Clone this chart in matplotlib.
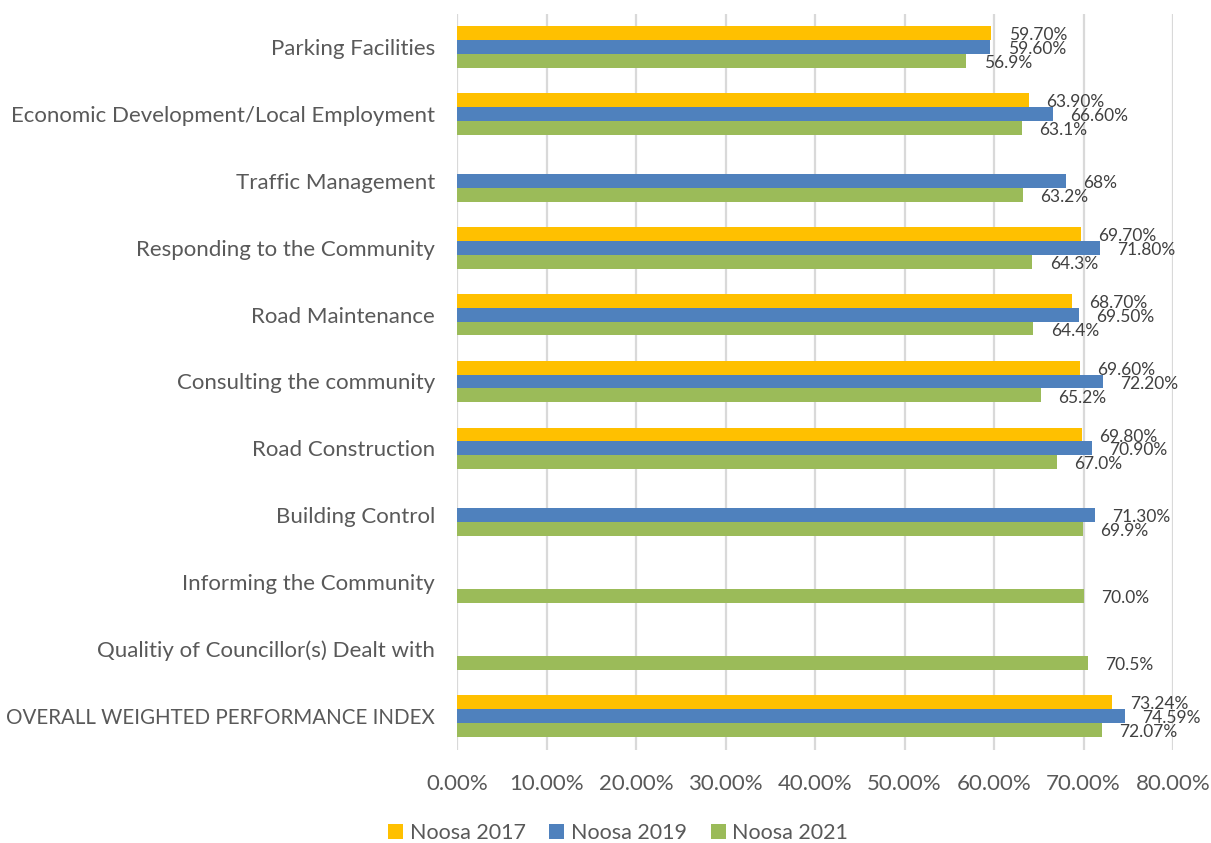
import numpy as np
import matplotlib
matplotlib.use("Agg")
import matplotlib.pyplot as plt
from matplotlib.patches import Patch

plt.rcParams['font.family'] = ['Lato', 'DejaVu Sans']

categories = [
    "Parking Facilities",
    "Economic Development/Local Employment",
    "Traffic Management",
    "Responding to the Community",
    "Road Maintenance",
    "Consulting the community",
    "Road Construction",
    "Building Control",
    "Informing the Community",
    "Qualitiy of Councillor(s) Dealt with",
    "OVERALL WEIGHTED PERFORMANCE INDEX",
]
noosa_2017 = [59.70, 63.90, np.nan, 69.70, 68.70, 69.60, 69.80, np.nan, np.nan, np.nan, 73.24]
noosa_2019 = [59.60, 66.60, 68.00, 71.80, 69.50, 72.20, 70.90, 71.30, np.nan, np.nan, 74.59]
noosa_2021 = [56.9, 63.1, 63.2, 64.3, 64.4, 65.2, 67.0, 69.9, 70.0, 70.5, 72.07]
labels_2017 = ["59.70%", "63.90%", "", "69.70%", "68.70%", "69.60%", "69.80%", "", "", "", "73.24%"]
labels_2019 = ["59.60%", "66.60%", "68%", "71.80%", "69.50%", "72.20%", "70.90%", "71.30%", "", "", "74.59%"]
labels_2021 = ["56.9%", "63.1%", "63.2%", "64.3%", "64.4%", "65.2%", "67.0%", "69.9%", "70.0%", "70.5%", "72.07%"]
series_names = ["Noosa 2017", "Noosa 2019", "Noosa 2021"]
xticks = [0, 10, 20, 30, 40, 50, 60, 70, 80]

colors = ["#FFC000", "#4F81BD", "#9BBB59"]
text_color = "#595959"

W, H = 1211, 843
fig = plt.figure(figsize=(W / 100, H / 100), dpi=100)
ax = fig.add_axes([457 / W, 1 - 749.5 / H, (1173 - 457) / W, (749.5 - 13.5) / H])

y = np.arange(len(categories))
h = 0.208
series = [(noosa_2017, labels_2017), (noosa_2019, labels_2019), (noosa_2021, labels_2021)]
for i, ((vals, labs), col) in enumerate(zip(series, colors)):
    ypos = y + (i - 1) * h
    vals = np.array(vals, dtype=float)
    ax.barh(ypos, vals, height=h, color=col, zorder=3)
    for yy, v, lab in zip(ypos, vals, labs):
        if not np.isnan(v) and lab:
            ax.annotate(lab, xy=(v, yy), xytext=(12.5, -1.5), textcoords="offset points",
                        ha="left", va="center", fontsize=12.5, color="#404040")

ax.set_ylim(len(categories) - 0.5, -0.5)
ax.set_xlim(0, 80)
ax.set_xticks(xticks)
ax.set_xticklabels([f"{t:.2f}%" for t in xticks])
ax.set_yticks(y)
ax.set_yticklabels(categories)
ax.tick_params(axis="x", length=0, pad=18, labelsize=16, labelcolor=text_color)
ax.tick_params(axis="y", length=0, pad=16, labelsize=16, labelcolor=text_color)
ax.get_yticklabels()[-1].set_fontsize(14.8)
for s in ax.spines.values():
    s.set_visible(False)
ax.xaxis.grid(True, color="#D9D9D9", linewidth=1.6, zorder=0)
ax.set_axisbelow(True)

handles = [Patch(facecolor=c, edgecolor="none") for c in colors]
fig.legend(handles, series_names, loc="center", bbox_to_anchor=(618 / W, 1 - 833 / H),
           ncol=3, frameon=False, fontsize=15.5, handlelength=0.7, handleheight=0.7,
           handletextpad=0.3, columnspacing=1.1, labelcolor=text_color)

fig.savefig("out.png", dpi=100, facecolor="white")
